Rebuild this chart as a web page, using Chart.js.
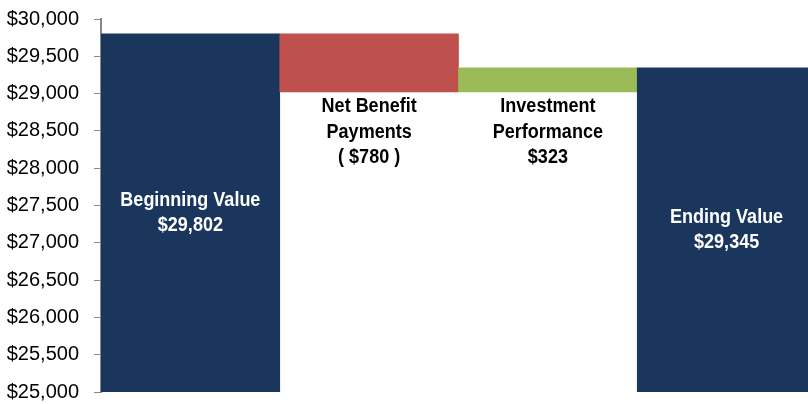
<!DOCTYPE html>
<html>
<head>
<meta charset="utf-8">
<script src="https://cdn.jsdelivr.net/npm/chart.js@4.4.0/dist/chart.umd.min.js"></script>
<style>
  html, body { margin: 0; padding: 0; background: #fff; overflow: hidden; }
  #wrap { width: 808px; height: 404px; overflow: hidden; }
  #c { display: block; }
</style>
</head>
<body>
<div id="wrap"><canvas id="c" width="816" height="404"></canvas></div>
<script>
// Data
const categories = ['Beginning Value', 'Net Benefit Payments', 'Investment Performance', 'Ending Value'];
const barLow  = [25000, 29022, 29022, 25000];
const barHigh = [29802, 29802, 29345, 29345];
const barLabels = [
  ['Beginning Value', '$29,802'],
  ['Net Benefit', 'Payments', '( $780 )'],
  ['Investment', 'Performance', '$323'],
  ['Ending Value', '$29,345']
];
const labelInside = [true, false, false, true];
const barColors = ['#1B365D', '#C0504D', '#9BBB59', '#1B365D'];
const yMin = 25000, yMax = 30000, yStep = 500;

const labelPlugin = {
  id: 'barLabels',
  afterDatasetsDraw(chart) {
    const ctx = chart.ctx;
    const meta = chart.getDatasetMeta(0);
    ctx.save();
    ctx.font = 'bold 20px "Liberation Sans", Arial, sans-serif';
    ctx.textAlign = 'center';
    ctx.textBaseline = 'middle';
    const lh = 25.5;
    const sx = 0.9;
    meta.data.forEach((bar, i) => {
      const lines = barLabels[i];
      const top = Math.min(bar.y, bar.base), bottom = Math.max(bar.y, bar.base);
      let startY;
      if (labelInside[i]) {
        ctx.fillStyle = '#ffffff';
        startY = (top + bottom) / 2 - (lines.length - 1) * lh / 2;
      } else {
        ctx.fillStyle = '#000000';
        startY = bottom + 15;
      }
      lines.forEach((t, k) => {
        ctx.save();
        ctx.translate(bar.x, startY + k * lh);
        ctx.scale(sx, 1);
        ctx.fillText(t, 0, 0);
        ctx.restore();
      });
    });
    ctx.restore();
  }
};

new Chart(document.getElementById('c'), {
  type: 'bar',
  data: {
    labels: categories,
    datasets: [{
      data: categories.map((_, i) => [barLow[i], barHigh[i]]),
      backgroundColor: barColors,
      borderWidth: 0,
      categoryPercentage: 1.0,
      barPercentage: 1.0
    }]
  },
  options: {
    responsive: false,
    animation: false,
    layout: { padding: { top: 19, right: 0, bottom: 12, left: 0 } },
    plugins: { legend: { display: false }, tooltip: { enabled: false } },
    scales: {
      x: {
        display: false
      },
      y: {
        min: yMin, max: yMax,
        afterFit: s => { s.width = 101; s.paddingTop = 0; s.paddingBottom = 0; },
        ticks: {
          stepSize: yStep,
          color: '#000',
          padding: 15,
          font: { family: '"Liberation Sans", Arial, sans-serif', size: 20 },
          callback: v => '$' + v.toLocaleString('en-US')
        },
        grid: { drawOnChartArea: false, drawTicks: true, tickLength: 7, color: '#888888' },
        border: { display: true, color: '#888888', width: 2 }
      }
    }
  },
  plugins: [labelPlugin]
});
</script>
</body>
</html>
